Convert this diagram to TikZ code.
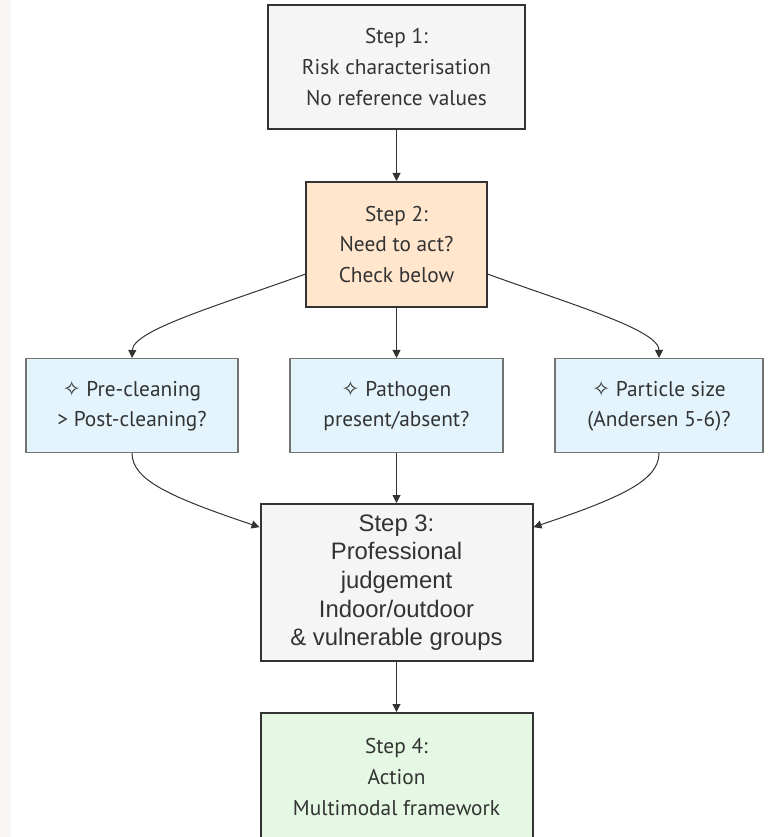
\documentclass[tikz,border=0pt]{standalone}
\usepackage{fontspec}
\setmainfont{PT Sans}
\newfontfamily\arialfont{Liberation Sans}
\newfontfamily\starfont{DejaVu Sans}
\usetikzlibrary{arrows.meta, positioning, calc}
\definecolor{inkgray}{HTML}{333333}
\definecolor{stripcol}{HTML}{F8F7F4}
\definecolor{stepgray}{HTML}{F5F5F5}
\definecolor{steppeach}{HTML}{FFE6CC}
\definecolor{checkblue}{HTML}{E3F4FC}
\definecolor{actgreen}{HTML}{E4F8E4}
\tikzset{
	stepbox/.style={draw=inkgray, line width=1.5pt, inner sep=0pt, align=center,
			text=inkgray, font=\fontsize{16}{23}\selectfont}
}
\tikzset{
	checkbox/.style={draw=gray!90!black, line width=0.8pt, fill=checkblue, inner sep=0pt,
			align=center, text=inkgray, minimum width=156pt, minimum height=70.5pt,
			font=\fontsize{16}{22.5}\selectfont}
}
\tikzset{
	flow/.style={draw=inkgray, line width=0.75pt, -{Triangle[length=6pt,width=6pt]}}
}
\newcommand{\chk}{{\starfont\fontsize{16}{16}\selectfont ✧}\ }

\begin{document}
\begin{tikzpicture}[x=0.75pt, y=-0.75pt]

			\clip (0,0) rectangle (767,837);
			\fill[white] (0,0) rectangle (767,837);
			\fill[stripcol] (0,0) rectangle (11,837);

			% steps down the middle
			\node[stepbox, fill=stepgray, minimum width=192.75pt, minimum height=93pt] (s1) at (396.5,67)
				{Step 1:\\Risk characterisation\\No reference values};
			\node[stepbox, fill=steppeach, minimum width=135.75pt, minimum height=93.75pt] (s2) at (396.5,244.5)
				{Step 2:\\Need to act?\\Check below};

			% the three checks
			\node[checkbox, minimum width=159pt] (pre) at (132,405.5)
				{\chk Pre-cleaning\\> Post-cleaning?};
			\node[checkbox, minimum width=159.75pt] (path) at (396.5,405.5)
				{\chk Pathogen\\present/absent?};
			\node[checkbox, minimum width=156pt] (part) at (659,405.5)
				{\chk Particle size\\(Andersen 5-6)?};

			\node[stepbox, fill=stepgray, minimum width=204pt, minimum height=117.75pt,
				font=\arialfont\fontsize{17.9}{21.5}\selectfont] (s3) at (396.5,582.5)
				{Step 3:\\Professional\\judgement\\Indoor/outdoor\\\& vulnerable groups};
			\node[stepbox, fill=actgreen, minimum width=204pt, minimum height=96pt] (s4) at (396.5,777)
				{Step 4:\\Action\\Multimodal framework};

			\draw[flow] (s1.south) -- (s2.north);
			\draw[flow] (s2.198) .. controls (220,305) and (133,330) .. (pre.north);
			\draw[flow] (s2.south) -- (path.north);
			\draw[flow] (s2.-18) .. controls (573,305) and (659,330) .. (part.north);

			\draw[flow] (pre.south) .. controls (132,480) and (170,497) .. (s3.158);
			\draw[flow] (path.south) -- (s3.north);
			\draw[flow] (part.south) .. controls (659,480) and (623,497) .. (s3.22);
			\draw[flow] (s3.south) -- (s4.north);

		\end{tikzpicture}
\end{document}
